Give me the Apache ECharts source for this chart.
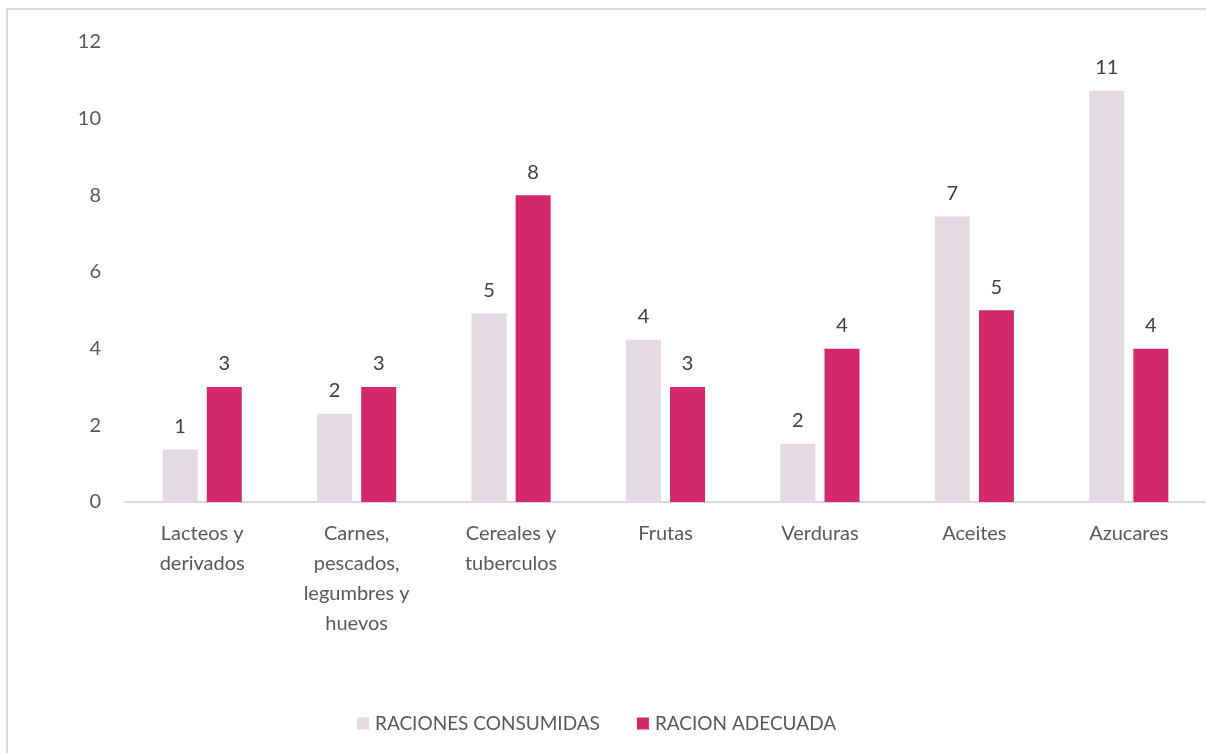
<!DOCTYPE html>
<html>
<head>
<meta charset="utf-8">
<script src="https://cdn.jsdelivr.net/npm/echarts@6/dist/echarts.min.js"></script>
<style>
  html, body { margin: 0; padding: 0; background: #ffffff; }
  #chart { width: 1206px; height: 753px; }
</style>
</head>
<body>
<div id="chart"></div>
<script>
// Food groups (line breaks as shown under the axis)
const categories = [
  'Lacteos y\nderivados',
  'Carnes,\npescados,\nlegumbres y\nhuevos',
  'Cereales y\ntuberculos',
  'Frutas',
  'Verduras',
  'Aceites',
  'Azucares'
];

// Servings actually eaten vs. recommended servings
const seriesNames = ['RACIONES CONSUMIDAS', 'RACION ADECUADA'];
const consumed = [1.37, 2.30, 4.92, 4.23, 1.52, 7.45, 10.73];
const adequate = [3, 3, 8, 3, 4, 5, 4];

// Value axis ticks
const yMin = 0, yMax = 12, yStep = 2;

const FONT = 'Lato, "Open Sans", sans-serif';
const TEXT = '#595959';

const chart = echarts.init(document.getElementById('chart'), null, { renderer: 'canvas' });

const label = {
  show: true,
  position: 'top',
  distance: 13,
  color: '#404040',
  fontFamily: FONT,
  fontSize: 20,
  formatter: p => String(Math.round(p.value))
};

chart.setOption({
  animation: false,
  backgroundColor: '#ffffff',
  graphic: [{
    type: 'rect',
    shape: { x: 7, y: 9, width: 1240, height: 780 },
    style: { fill: null, stroke: '#d9d9d9', lineWidth: 2 },
    silent: true,
    z: -1
  }],
  grid: { left: 125, top: 42, width: 1082, height: 460, containLabel: false },
  legend: {
    data: seriesNames,
    left: 352,
    top: 709,
    itemWidth: 12,
    itemHeight: 12,
    itemGap: 37,
    icon: 'rect',
    textStyle: { color: TEXT, fontFamily: FONT, fontSize: 19, padding: [0, 0, 0, 1] }
  },
  xAxis: {
    type: 'category',
    data: categories,
    axisLine: { lineStyle: { color: '#d9d9d9', width: 2 } },
    axisTick: { show: false },
    axisLabel: {
      color: TEXT,
      fontFamily: FONT,
      fontSize: 20,
      lineHeight: 30,
      margin: 17,
      interval: 0,
      align: 'center'
    }
  },
  yAxis: {
    type: 'value',
    min: yMin,
    max: yMax,
    interval: yStep,
    axisLine: { show: false },
    axisTick: { show: false },
    splitLine: { show: false },
    axisLabel: { color: TEXT, fontFamily: FONT, fontSize: 20, margin: 24 }
  },
  series: [
    {
      name: seriesNames[0],
      type: 'bar',
      data: consumed,
      barWidth: 35,
      barGap: '26%',
      itemStyle: { color: '#e4dae2' },
      label
    },
    {
      name: seriesNames[1],
      type: 'bar',
      data: adequate,
      barWidth: 35,
      barGap: '26%',
      itemStyle: { color: '#d3296b' },
      label
    }
  ]
});
</script>
</body>
</html>
